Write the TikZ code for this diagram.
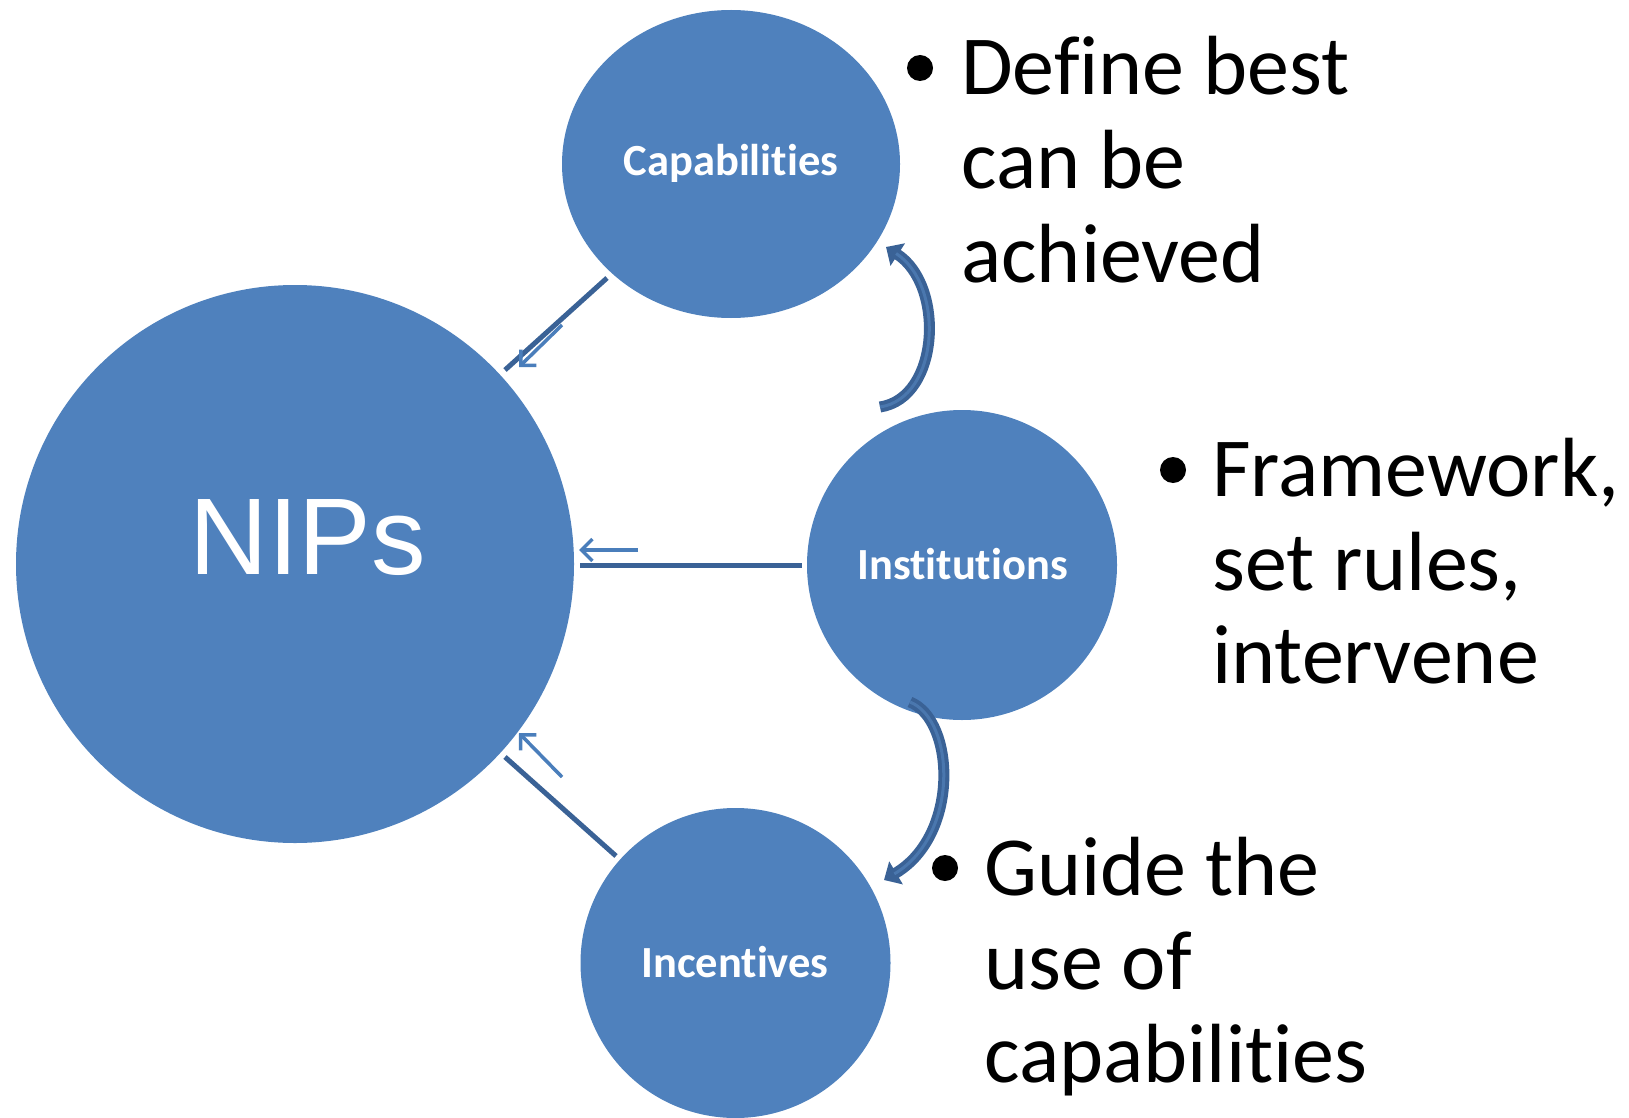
\documentclass[tikz,border=0pt]{standalone}
\usepackage{fontspec}
\setmainfont[Ligatures={NoCommon,NoRare,NoContextual}]{Carlito}
\newfontfamily\arialf{Liberation Sans}
\usetikzlibrary{arrows.meta}
\definecolor{cfill}{HTML}{4F81BD}
\definecolor{cdark}{HTML}{3A6296}
\definecolor{cthin}{HTML}{4A7EBB}
\definecolor{cinner}{HTML}{4A77AE}
\tikzset{
  blob/.style={draw=none,fill=cfill},
  clabel/.style={text=white,font=\fontsize{44.5}{50}\selectfont\bfseries,anchor=base,inner sep=0pt},
  bigtext/.style={font=\fontsize{84}{94}\selectfont,anchor=base west,inner sep=0pt,text=black},
  dot/.style={circle,fill=black,minimum size=26pt,inner sep=0pt},
  thickline/.style={draw=cdark,line width=5pt},
  thinarrow/.style={draw=cthin,line width=3.5pt,-{Straight Barb[length=11pt,width=22pt,line width=3.5pt]}},
  bentout/.style={draw=cdark,line width=11pt,-{Triangle[length=14pt,width=26pt]}},
  bentin/.style={draw=cinner,line width=3pt},
}
\begin{document}
\begin{tikzpicture}[x=1pt,y=-1pt]
\useasboundingbox (0,0) rectangle (1629,1118);
\clip (0,0) rectangle (1629,1118);
% circles
\fill[blob] (295,564) circle (279);
\fill[blob] (731,164) ellipse (169 and 154);
\fill[blob] (962,565) circle (155);
\fill[blob] (735.5,963) circle (155);
\node (nips) at (295,564) {};
\node (cap) at (731,164) {};
\node (inst) at (962,565) {};
\node (inc) at (735.5,963) {};
% labels
\node[anchor=base,inner sep=0pt,text=white,font=\arialf\fontsize{109}{120}\selectfont] (nipslbl) at (308,574.5) {NIPs};
\node[clabel] (caplbl) at (731,176) {Capabilities};
\node[clabel] (instlbl) at (962.5,579) {Institutions};
\node[clabel] (inclbl) at (735,977) {Incentives};
% straight connectors
\coordinate (c1a) at (607,278);
\coordinate (c1b) at (505,370);
\coordinate (c1s) at (562,325);
\coordinate (c1t) at (519,367);
\draw[thickline] (c1a) -- (c1b);
\draw[thinarrow] (c1s) -- (c1t);
\coordinate (c2a) at (802,565);
\coordinate (c2b) at (580,565);
\coordinate (c2s) at (638,550);
\coordinate (c2t) at (579,550);
\draw[thickline] (c2a) -- (c2b);
\draw[thinarrow] (c2s) -- (c2t);
\coordinate (c3a) at (616,856);
\coordinate (c3b) at (505,757);
\coordinate (c3s) at (562,777);
\coordinate (c3t) at (519,733);
\draw[thickline] (c3a) -- (c3b);
\draw[thinarrow] (c3s) -- (c3t);
% curved arrows
\coordinate (u0) at (880,407);
\coordinate (u1) at (886,247);
\draw[bentout] (u0) .. controls (940,398) and (945,285) .. (u1);
\draw[bentin,shorten >=12pt] (u0) .. controls (940,398) and (945,285) .. (u1);
\coordinate (l0) at (910,702);
\coordinate (l1) at (884,880);
\draw[bentout] (l0) .. controls (955,720) and (960,835) .. (l1);
\draw[bentin,shorten >=12pt] (l0) .. controls (955,720) and (960,835) .. (l1);
% bullet texts
\node[dot] (b1) at (920,68) {};
\node[bigtext] (t1a) at (961,95) {Define best};
\node[bigtext] (t1b) at (961,188.5) {can be};
\node[bigtext] (t1c) at (961,282) {achieved};
\node[dot] (b2) at (1173,470) {};
\node[bigtext] (t2a) at (1212,496.5) {Framework,};
\node[bigtext] (t2b) at (1212,590) {set rules,};
\node[bigtext] (t2c) at (1212,683.5) {intervene};
\node[dot] (b3) at (945,868) {};
\node[bigtext] (t3a) at (984,895.5) {Guide the};
\node[bigtext] (t3b) at (984,989) {use of};
\node[bigtext] (t3c) at (984,1082.5) {capabilities};
\end{tikzpicture}
\end{document}
